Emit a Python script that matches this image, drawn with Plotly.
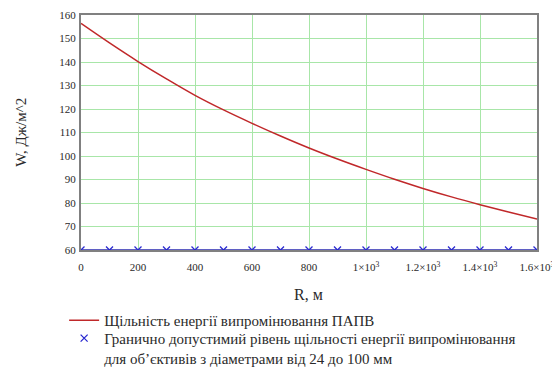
import plotly.graph_objects as go

R = [0, 100, 200, 300, 400, 500, 600, 700, 800, 900, 1000, 1100, 1200, 1300, 1400, 1500, 1600]
W = [156.4, 148.1, 140.2, 132.8, 125.8, 119.6, 113.9, 108.5, 103.4, 98.7, 94.3, 90.1, 86.2, 82.6, 79.3, 76.2, 73.2]
W_limit = [60] * len(R)

x_tickvals = [0, 200, 400, 600, 800, 1000, 1200, 1400, 1600]
x_ticktext = ["0", "200", "400", "600", "800", "1×10<sup>3</sup>", "1.2×10<sup>3</sup>",
              "1.4×10<sup>3</sup>", "1.6×10<sup>3</sup>"]
y_tickvals = [60, 70, 80, 90, 100, 110, 120, 130, 140, 150, 160]

x_title = "R, м"
y_title = "W, Дж/м^2"
name1 = "Щільність енергії випромінювання ПАПВ"
name2 = "Гранично допустимий рівень щільності енергії випромінювання<br>для об’єктивів з діаметрами від 24 до 100 мм"

font_family = "Liberation Serif"
txt_color = "#2a2a2a"

fig = go.Figure()
fig.add_trace(go.Scatter(x=R, y=W, mode="lines", name=name1, legend="legend",
                         line=dict(color="#c0282a", width=1.5, shape="spline")))
fig.add_trace(go.Scatter(x=R, y=W_limit, mode="lines", showlegend=False,
                         line=dict(color="#2a2ab0", width=1.5), cliponaxis=True))
fig.add_trace(go.Scatter(x=R, y=W_limit, mode="markers", name=name2, cliponaxis=True,
                         legend="legend2",
                         marker=dict(symbol="x-thin", size=7,
                                     line=dict(color="#2a2ad0", width=1.3))))

axis_common = dict(showline=True, linecolor="#808080", linewidth=2, mirror=True,
                   showgrid=True, gridcolor="#a8e6a8", gridwidth=1, zeroline=False,
                   ticks="", automargin=False,
                   tickfont=dict(family=font_family, size=11, color=txt_color))

fig.update_xaxes(range=[0, 1600], tickvals=x_tickvals, ticktext=x_ticktext,
                 ticklabelstandoff=6, **axis_common)
fig.update_yaxes(range=[60, 160], tickvals=y_tickvals, ticklabelstandoff=1, **axis_common)

fig.add_annotation(text=x_title, xref="paper", yref="paper", x=0.498, y=-0.191,
                   xanchor="center", yanchor="middle", showarrow=False,
                   font=dict(family=font_family, size=16, color=txt_color))
fig.add_annotation(text=y_title, xref="paper", yref="paper", x=-0.132, y=0.502,
                   xanchor="center", yanchor="middle", showarrow=False, textangle=-90,
                   font=dict(family=font_family, size=15, color=txt_color))

legend_common = dict(xanchor="left", yanchor="top",
                     font=dict(family=font_family, size=15, color=txt_color),
                     bgcolor="rgba(0,0,0,0)", tracegroupgap=0, itemwidth=30)

fig.update_layout(
    width=560, height=400,
    margin=dict(l=73, r=31, t=7, b=158),
    paper_bgcolor="white", plot_bgcolor="white",
    font=dict(family=font_family, color=txt_color),
    legend=dict(x=-0.037, y=-0.230, **legend_common),
    legend2=dict(x=-0.037, y=-0.306, valign="top", **legend_common),
)

fig.write_html("out.html")
